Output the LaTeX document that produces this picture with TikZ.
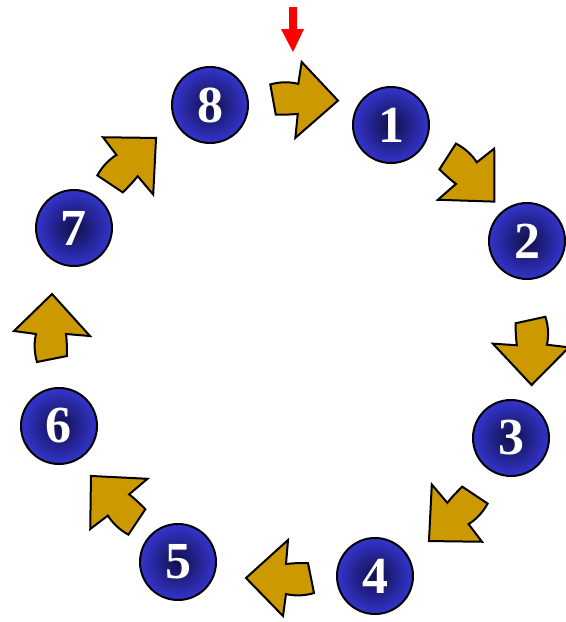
\documentclass[tikz,border=0pt]{standalone}
\usepackage{fontspec}
\setmainfont{Liberation Serif}
\definecolor{ballblue}{RGB}{52,52,206}
\definecolor{ballnavy}{RGB}{16,16,72}
\definecolor{arrowgold}{RGB}{204,153,0}
\tikzset{
  stepball/.style={
    circle,
    draw=black,
    line width=1pt,
    minimum size=38pt,
    inner sep=0pt,
    shading=radial,
    inner color=ballnavy,
    outer color=ballblue,
    text=white,
    font=\fontsize{26}{26}\selectfont\bfseries
  },
  pics/turnarrow/.style={code={
    \draw[fill=arrowgold, draw=black, line width=1pt, line join=miter]
      (-34,15) .. controls (-24,18) and (-14,18) .. (-6,16) -- (-3,38) -- (34,0)
      -- (-8,-38) -- (-6,-14) .. controls (-14,-15) and (-22,-15) .. (-28,-15)
      .. controls (-30,-5) and (-32,5) .. (-34,15) -- cycle;
  }}
}

\begin{document}
\begin{tikzpicture}[x=0.5pt, y=0.5pt]
\useasboundingbox (0,0) rectangle (566,-622);

% the eight steps round the ring
\node[stepball] (s1) at (391,-125) {1};
\node[stepball] (s2) at (527,-241) {2};
\node[stepball] (s3) at (511,-438) {3};
\node[stepball] (s4) at (375,-576) {4};
\node[stepball] (s5) at (178,-562) {5};
\node[stepball] (s6) at (59,-426) {6};
\node[stepball] (s7) at (74,-228) {7};
\node[stepball] (s8) at (210,-105) {8};

% gold turn arrows between the steps
\foreach \ax/\ay/\ang in {304/100/-1, 470/178/-44, 531/351/-89, 453/517/-135,
                          280/578/180, 115/500/135, 52/328/90, 132/162/45}
  \pic[rotate=\ang] at (\ax,-\ay) {turnarrow};

% start marker
\fill[red] (289,-7) -- (297,-7) -- (297,-29) -- (304,-29) -- (293,-52)
  -- (281,-29) -- (289,-29) -- cycle;
\end{tikzpicture}
\end{document}
